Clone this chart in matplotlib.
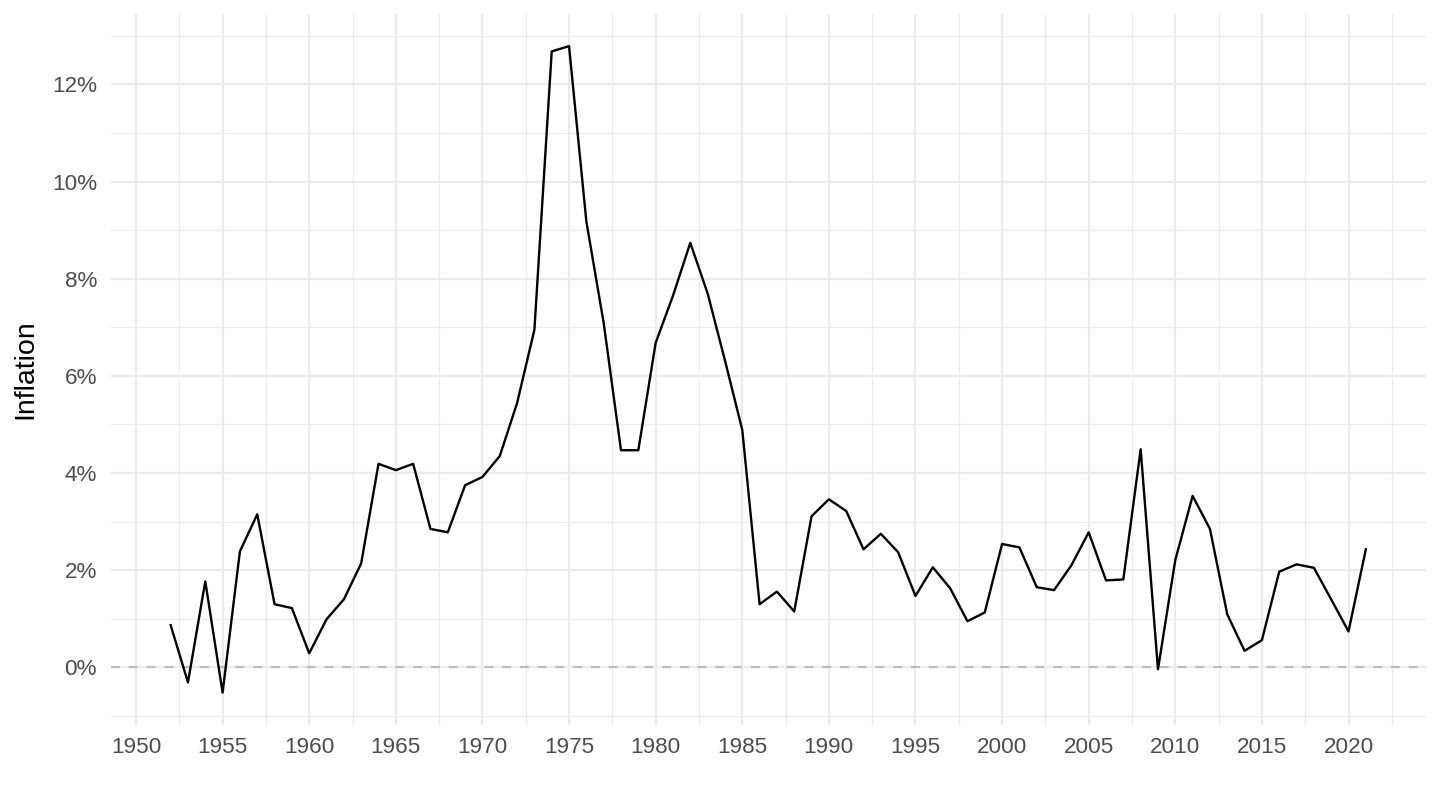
import matplotlib.pyplot as plt
import numpy as np
from matplotlib.ticker import FuncFormatter, MultipleLocator

plt.rcParams['font.family'] = ['Liberation Sans', 'DejaVu Sans']

years = np.arange(1952, 2022)
inflation = [
    0.87, -0.31, 1.77, -0.52, 2.39, 3.15, 1.30, 1.22, 0.29, 0.99,
    1.40, 2.14, 4.19, 4.06, 4.19, 2.85, 2.78, 3.75, 3.92, 4.35,
    5.44, 6.95, 12.68, 12.79, 9.18, 7.09, 4.47, 4.47, 6.68, 7.65,
    8.74, 7.70, 6.32, 4.89, 1.30, 1.56, 1.15, 3.11, 3.46, 3.22,
    2.43, 2.75, 2.37, 1.47, 2.06, 1.63, 0.95, 1.13, 2.54, 2.47,
    1.65, 1.59, 2.10, 2.78, 1.79, 1.81, 4.49, -0.04, 2.21, 3.53,
    2.85, 1.09, 0.34, 0.56, 1.97, 2.12, 2.05, 1.40, 0.74, 2.43,
]

fig = plt.figure(figsize=(14.4, 8.1), dpi=100)
ax = fig.add_axes([0.077, 0.105, 0.913, 0.878])

ax.axhline(0, color='#bebebe', lw=1.6, ls=(0, (4, 4)), zorder=1)
ax.plot(years, inflation, color='black', lw=1.7, zorder=2)

# ggplot-style 5% expansion
x0, x1 = years.min(), years.max()
pad = (x1 - x0) * 0.05
ax.set_xlim(x0 - pad, x1 + pad)
ymin, ymax = min(inflation), max(inflation)
ypad = (ymax - ymin) * 0.05
ax.set_ylim(ymin - ypad, ymax + ypad)

ax.xaxis.set_major_locator(MultipleLocator(5))
ax.xaxis.set_minor_locator(MultipleLocator(2.5))
ax.yaxis.set_major_locator(MultipleLocator(2))
ax.yaxis.set_minor_locator(MultipleLocator(1))
ax.yaxis.set_major_formatter(FuncFormatter(lambda v, p: f"{v:.0f}%"))

ax.grid(which='major', color='#ebebeb', lw=1.6)
ax.grid(which='minor', color='#ebebeb', lw=0.8)
ax.set_axisbelow(True)
for s in ax.spines.values():
    s.set_visible(False)
ax.tick_params(which='both', length=0, labelsize=16.2, colors='#4d4d4d')
ax.tick_params(axis='y', pad=10)
ax.tick_params(axis='x', pad=9)

ax.set_ylabel('Inflation', fontsize=20.5, color='black', labelpad=10)

fig.savefig('out.png', dpi=100)
